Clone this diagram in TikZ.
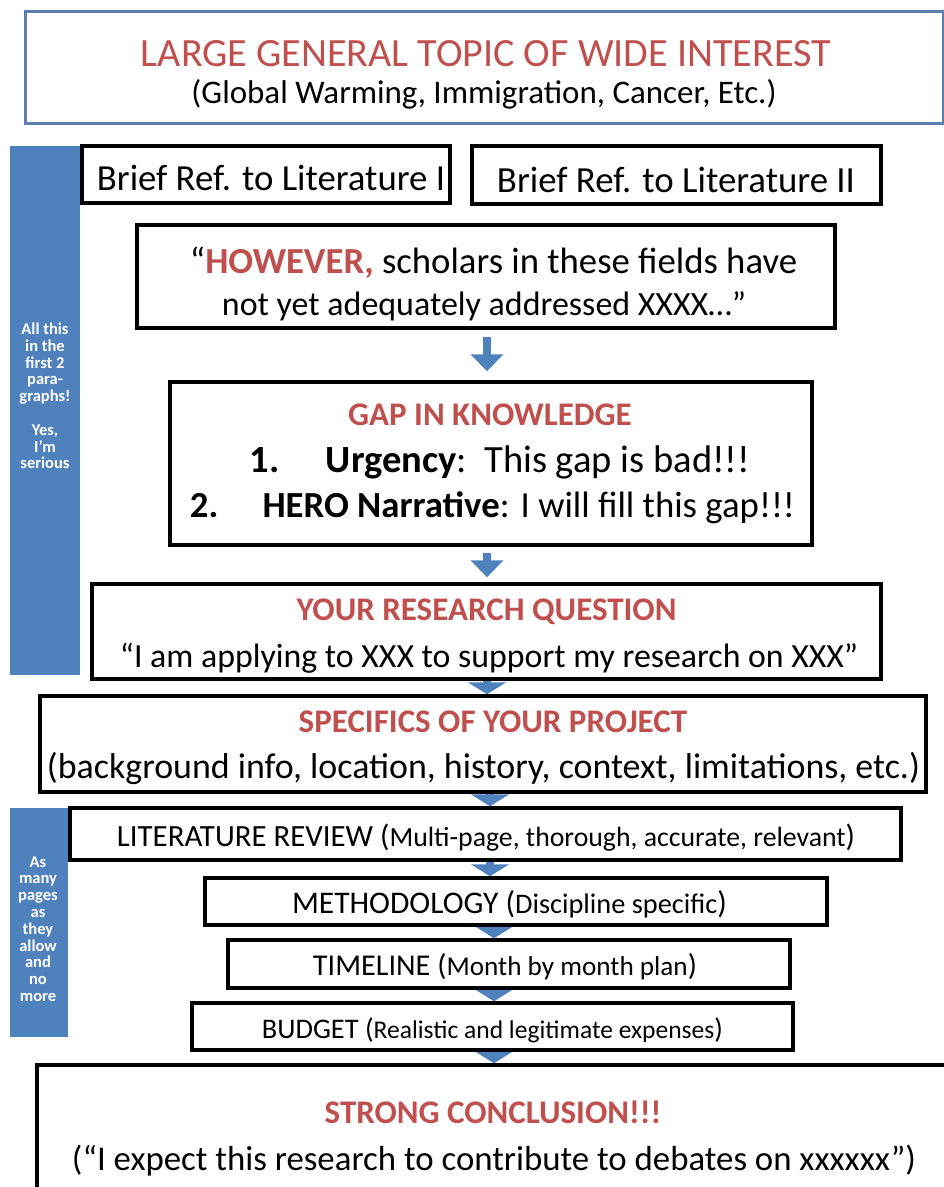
\documentclass[tikz,border=0pt]{standalone}
\usepackage{fontspec}
\setmainfont{Carlito}
\usetikzlibrary{arrows.meta}
\definecolor{ofred}{HTML}{C0504D}
\definecolor{ofblue}{HTML}{4F81BD}
\definecolor{topline}{HTML}{5A7FB0}
\pgfdeclarelayer{bg}
\pgfsetlayers{bg,main}
\newcommand{\fitw}[2]{\resizebox{#1pt}{!}{#2}}
\newcommand{\headfont}{\fontsize{33}{38}\selectfont\bfseries\color{ofred}}
\tikzset{
  blackbox/.style={draw=black, line width=3.5pt, fill=white, inner sep=0pt},
  sidebar/.style={fill=ofblue, draw=none, inner sep=0pt},
  sidetext/.style={text=white, font=\fontsize{16.5}{16.8}\selectfont\bfseries, align=center, inner sep=0pt},
  txt/.style={anchor=base, inner sep=0pt},
  bigarrow/.style={draw=ofblue, line width=7.5pt, -{Triangle[width=32pt,length=17pt]}},
  smallarrow/.style={draw=ofblue, line width=8pt, -{Triangle[width=38pt,length=12pt]}}
}
\begin{document}
\begin{tikzpicture}[x=1pt,y=-1pt]
\useasboundingbox (0,0) rectangle (944,1187);
\begin{pgfonlayer}{bg}
\fill[white] (0,0) rectangle (944,1187);
\end{pgfonlayer}
% side bars
\node[sidebar, minimum width=70pt, minimum height=529pt] (side1) at (45,410.5) {};
\node[sidebar, minimum width=58pt, minimum height=229pt] (side2) at (39,922.5) {};
\node[sidetext] (side1t) at (45,396) {All this\\in the\\first 2\\para-\\graphs!\\[16.8pt]Yes,\\I'm\\serious};
\node[sidetext] (side2t) at (38,929) {As\\many\\pages\\as\\they\\allow\\and\\no\\more};
% boxes
\node[draw=topline, line width=3pt, fill=white, minimum width=918pt, minimum height=112pt] (top) at (484,67) {};
\node[blackbox, minimum width=368pt, minimum height=57pt] (lit1) at (266,174.5) {};
\node[blackbox, minimum width=409pt, minimum height=58pt] (lit2) at (676.5,175) {};
\node[blackbox, minimum width=698pt, minimum height=103pt] (however) at (486,276.5) {};
\node[blackbox, minimum width=642pt, minimum height=163pt] (gap) at (491,463.5) {};
\node[blackbox, minimum width=789pt, minimum height=95pt] (question) at (486.5,631.5) {};
\node[blackbox, minimum width=886pt, minimum height=96pt] (specifics) at (483,744) {};
\node[blackbox, minimum width=831pt, minimum height=52pt] (review) at (485.5,834) {};
\node[blackbox, minimum width=622pt, minimum height=47pt] (method) at (516,901.5) {};
\node[blackbox, minimum width=562pt, minimum height=48pt] (timeline) at (509,964) {};
\node[blackbox, minimum width=601pt, minimum height=47pt] (budget) at (492.5,1026.5) {};
\node[blackbox, minimum width=923pt, minimum height=135pt] (conclusion) at (498.5,1132.5) {};
% arrows
\coordinate (ax) at (487,0);
\coordinate (bx) at (490,0);
\coordinate (cx) at (494,0);
\draw[bigarrow, shorten <=7pt, shorten >=9pt] (however.south -| ax) -- (gap.north -| ax);
\draw[bigarrow, shorten <=6pt, shorten >=5pt] (gap.south -| ax) -- (question.north -| ax);
\begin{pgfonlayer}{bg}
\draw[smallarrow] (question.south -| ax) -- (specifics.north -| ax);
\draw[smallarrow] (specifics.south -| bx) -- (review.north -| bx);
\draw[smallarrow] (review.south -| bx) -- (method.north -| bx);
\draw[smallarrow] (method.south -| cx) -- (timeline.north -| cx);
\draw[smallarrow] (timeline.south -| cx) -- (budget.north -| cx);
\draw[smallarrow] (budget.south -| cx) -- (conclusion.north -| cx);
\end{pgfonlayer}
% texts
\node[txt] (topT) at (486,66) {\fitw{690}{\color{ofred}LARGE GENERAL TOPIC OF WIDE INTEREST}};
\node[txt] (topS) at (484,103) {\fitw{585}{(Global Warming, Immigration, Cancer, Etc.)}};
\node[txt] (lit1T) at (271,190) {\fitw{348}{Brief Ref. to Literature I}};
\node[txt] (lit2T) at (676,192) {\fitw{358}{Brief Ref. to Literature II}};
\node[txt] (howA) at (493.5,273) {\fitw{607}{“{\color{ofred}\bfseries HOWEVER,} scholars in these fields have}};
\node[txt] (howB) at (484,315) {\fitw{524}{not yet adequately addressed XXXX…”}};
\node[txt] (gapT) at (490,425) {\headfont GAP IN KNOWLEDGE};
\node[txt] (gap1) at (500,472) {\fitw{500}{\textbf{1.}\hspace{1.2em}\textbf{Urgency}:\ \ This gap is bad!!!}};
\node[txt] (gap2) at (492.5,517) {\fitw{605}{\textbf{2.}\hspace{1.2em}\textbf{HERO Narrative}: I will fill this gap!!!}};
\node[txt] (qT) at (486.5,620) {\headfont YOUR RESEARCH QUESTION};
\node[txt] (qS) at (489,667) {\fitw{738}{“I am applying to XXX to support my research on XXX”}};
\node[txt] (spT) at (493,732) {\headfont SPECIFICS OF YOUR PROJECT};
\node[txt] (spS) at (483.5,778) {\fitw{873}{(background info, location, history, context, limitations, etc.)}};
\node[txt] (revT) at (486,846) {\fitw{738}{LITERATURE REVIEW ({\small Multi-page, thorough, accurate, relevant})}};
\node[txt] (metT) at (509.5,913) {\fitw{435}{METHODOLOGY ({\small Discipline specific})}};
\node[txt] (timT) at (505,975) {\fitw{384}{TIMELINE ({\small Month by month plan})}};
\node[txt] (budT) at (492.5,1038) {\fitw{461}{BUDGET ({\small Realistic and legitimate expenses})}};
\node[txt] (conT) at (493,1123) {\headfont STRONG CONCLUSION!!!};
\node[txt] (conS) at (494,1170) {\fitw{844}{(“I expect this research to contribute to debates on xxxxxx”)}};
\end{tikzpicture}
\end{document}
